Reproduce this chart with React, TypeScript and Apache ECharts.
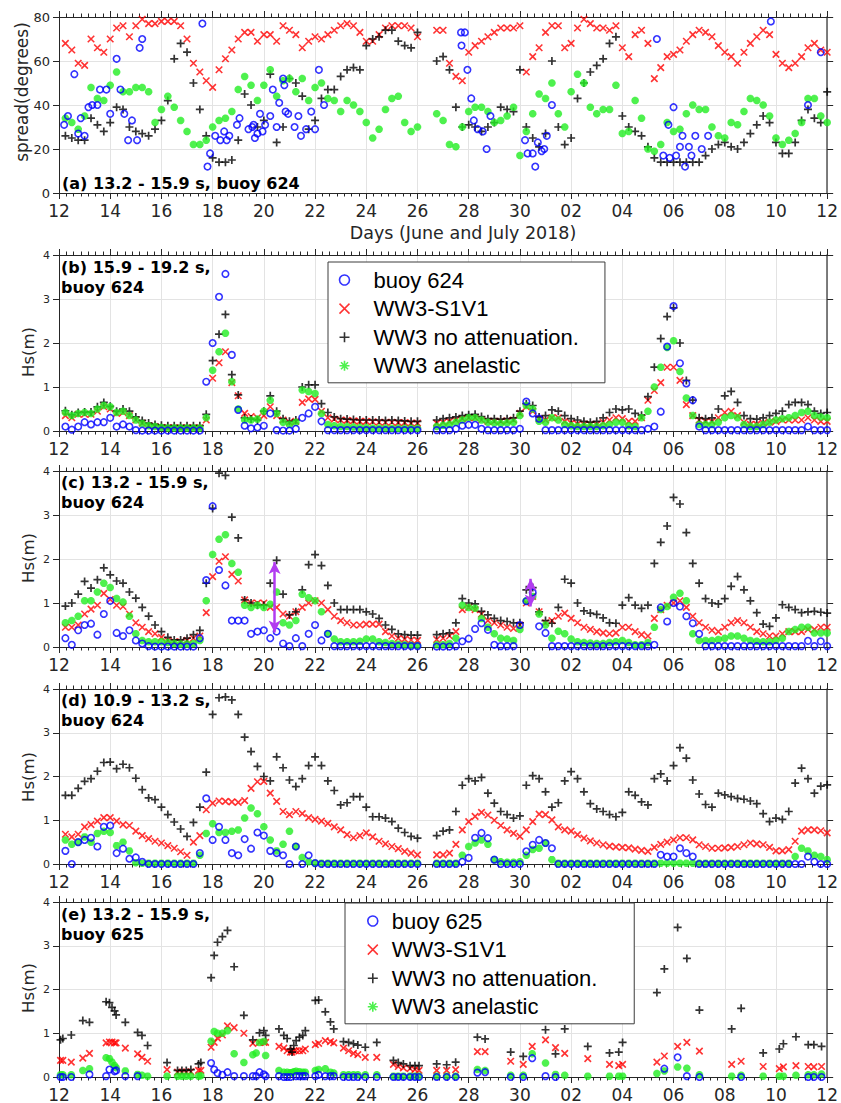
import React, { useEffect, useRef } from 'react';
import * as echarts from 'echarts';

// ---------- tick labels ----------
const dayTicks = ['12','14','16','18','20','22','24','26','28','30','02','04','06','08','10','12'];

// ---------- panel (a): spread (degrees), one row per day (June 12 .. July 12), 6-hourly ----------
const aRed: (number | null)[][] = [
  [null,68,65,59],[58,70,66,64],[70,75,76,71],[76,79,77,77],[78,78,78,76],[70,59,55,51],
  [48,56,61,65],[70,73,73,69],[72,72,69,76],[74,72,66,69],[71,70,72,74],[76,77,76,73],
  [69,69,72,75],[76,76,76,75],[71,null,null,74],[74,59,53,51],[64,67,69,71],[73,75,75,75],
  [76,55,62,66],[73,76,76,66],[68,75,79,77],[75,75,74,76],[66,62,72,74],[68,52,57,62],
  [63,65,69,72],[74,73,71,67],[64,62,59,64],[68,71,74,72],[63,59,57,59],[62,66,68,65],[64]
];
const aBlack: (number | null)[][] = [
  [null,26,25,24],[24,34,31,28],[32,39,38,30],[28,27,26,29],[33,42,61,68],[64,50,38,26],
  [16,14,14,15],[24,45,40,30],[33,54,23,30],[52,50,44,29],[33,43,47,47],[53,56,57,56],
  [67,70,71,74],[74,69,67,66],[73,null,null,60],[62,56,39,30],[31,30,28,30],[32,39,38,37],
  [56,30,25,21],[27,60,30,22],[25,43,50,55],[58,61,68,71],[35,30,28,26],[21,16,14,14],
  [14,14,14,14],[14,17,20,22],[23,21,20,23],[27,31,35,32],[23,18,18,23],[33,38,34,32],[46]
];
const aGreen: (number | null)[][] = [
  [null,34,32,29],[35,48,43,42],[49,55,46,46],[48,48,46,32],[38,44,39,33],[28,22,22,24],
  [30,33,34,37],[47,53,49,42],[49,56,44,51],[52,46,52,42],[48,50,43,42],[37,42,40,37],
  [32,25,29,38],[43,44,32,28],[30,null,null,36],[33,22,21,30],[37,39,39,37],[32,33,35,39],
  [17,28,36,45],[43,50,36,30],[46,54,50,39],[36,38,38,49],[27,28,42,34],[20,19,22,32],
  [28,29,36,40],[38,38,30,26],[25,32,31,37],[43,42,40,35],[25,22,24,27],[32,43,43,35],[32]
];
// buoy 624 spread: [days since June 12, degrees]
const aBuoy: number[][] = [
  [0.2,31],[0.35,35],[0.6,54],[0.75,27],[0.85,34],[1.0,26],[1.15,39],[1.3,40],[1.5,40],[1.6,47],
  [1.85,47],[2.0,36],[2.25,61],[2.4,47],[2.55,36],[2.7,24],[2.85,33],[3.05,24],[3.15,66],[3.25,70],
  [5.6,77],[5.8,12],[5.9,18],[6.1,26],[6.3,24],[6.45,28],[6.55,24],[6.65,26],[6.95,31],[7.05,34],
  [7.4,29],[7.55,30],[7.6,31],[7.65,25],[7.75,27],[7.85,36],[7.95,28],[8.05,31],[8.25,35],[8.35,47],
  [8.5,30],[8.6,41],[8.75,52],[8.8,49],[8.85,37],[8.95,36],[9.2,30],[9.35,35],[9.45,26],[9.65,29],
  [9.85,37],[10.0,29],[10.15,56],[10.35,40],
  [15.7,73],[15.85,73],[15.72,67],[15.95,56],[16.1,43],[16.2,33],[16.35,29],[16.55,28],[16.7,20],[16.85,35],
  [18.2,24],[18.3,18],[18.5,18],[18.6,12],[18.7,23],[18.85,19],[18.95,20],[19.05,26],[19.25,40],
  [23.35,70],[23.6,17],[23.8,31],[23.85,16],[24.0,39],[24.1,17],[24.25,21],[24.35,26],[24.45,12],
  [24.6,21],[24.7,17],[24.85,26],[25.1,20],[25.35,26],[27.8,78],[29.25,40],[29.75,64]
];

// ---------- panel (b): 15.9 - 19.2 s, Hs (m) ----------
const bRed: (number | null)[][] = [
  [null,0.35,0.3,0.38],[0.38,0.38,0.45,0.55],[0.5,0.4,0.42,0.35],[0.25,0.18,0.12,0.1],[0.08,0.07,0.07,0.07],
  [0.07,0.07,0.07,0.25],[1.2,1.55,1.8,1.1],[0.8,0.4,0.33,0.3],[0.35,0.55,0.35,0.25],[0.2,0.22,0.65,0.73],
  [0.72,0.45,0.3,0.27],[0.25,0.24,0.23,0.22],[0.22,0.21,0.2,0.2],[0.2,0.19,0.19,0.18],[0.18,null,null,0.18],
  [0.2,0.22,0.25,0.28],[0.3,0.3,0.25,0.22],[0.22,0.22,0.23,0.25],[0.4,0.55,0.45,0.28],[0.25,0.3,0.3,0.22],
  [0.18,0.16,0.15,0.15],[0.15,0.2,0.25,0.3],[0.28,0.22,0.22,0.3],[0.7,0.92,1.1,1.45],[1.45,1.15,0.6,0.35],
  [0.25,0.22,0.22,0.3],[0.42,0.45,0.35,0.2],[0.15,0.15,0.18,0.2],[0.22,0.25,0.25,0.25],[0.25,0.3,0.25,0.22],[0.22]
];
const bBlack: (number | null)[][] = [
  [null,0.46,0.37,0.42],[0.43,0.43,0.55,0.65],[0.56,0.45,0.5,0.45],[0.32,0.24,0.18,0.15],[0.13,0.12,0.12,0.12],
  [0.12,0.12,0.12,0.38],[1.6,2.2,2.65,1.28],[0.82,0.3,0.27,0.25],[0.45,0.8,0.45,0.28],[0.22,0.25,1.0,1.05],
  [1.05,0.62,0.42,0.32],[0.28,0.27,0.26,0.25],[0.25,0.25,0.25,0.24],[0.25,0.24,0.23,0.22],[0.22,null,null,0.25],
  [0.28,0.3,0.32,0.35],[0.37,0.38,0.33,0.28],[0.28,0.27,0.28,0.3],[0.45,0.62,0.58,0.32],[0.35,0.48,0.45,0.35],
  [0.28,0.25,0.22,0.2],[0.22,0.3,0.42,0.5],[0.48,0.5,0.4,0.36],[0.78,1.45,2.1,2.6],[2.8,2.0,1.15,0.7],
  [0.3,0.28,0.3,0.5],[0.8,0.9,0.65,0.35],[0.28,0.27,0.3,0.35],[0.4,0.45,0.6,0.65],[0.65,0.6,0.45,0.4],[0.42]
];
const bGreen: (number | null)[][] = [
  [null,0.42,0.35,0.4],[0.42,0.4,0.5,0.58],[0.55,0.42,0.45,0.35],[0.25,0.17,0.12,0.1],[0.08,0.07,0.07,0.07],
  [0.07,0.07,0.07,0.3],[1.38,1.8,2.22,1.12],[0.5,0.25,0.25,0.27],[0.45,0.7,0.4,0.2],[0.15,0.2,0.93,0.9],
  [0.85,0.4,0.15,0.12],[0.1,0.1,0.09,0.08],[0.08,0.07,0.07,0.07],[0.06,0.06,0.06,0.06],[0.06,null,null,0.1],
  [0.13,0.15,0.2,0.25],[0.3,0.3,0.25,0.2],[0.18,0.17,0.18,0.2],[0.35,0.58,0.5,0.22],[0.2,0.3,0.25,0.15],
  [0.12,0.1,0.1,0.1],[0.1,0.12,0.15,0.2],[0.2,0.12,0.1,0.3],[0.45,1.0,1.45,1.9],[2.05,1.35,0.75,0.35],
  [0.15,0.15,0.15,0.2],[0.3,0.35,0.3,0.15],[0.1,0.1,0.15,0.2],[0.25,0.28,0.3,0.35],[0.42,0.45,0.35,0.32],[0.3]
];
const bBuoy: (number | null)[][] = [
  [null,0.1,0.03,0.1],[0.2,0.15,0.2,0.2],[0.3,0.1,0.15,0.1],[0.02,0.01,0.01,0.01],[0.01,0.01,0.01,0.01],
  [0.01,0.01,0.01,1.12],[2.0,3.05,3.57,1.73],[0.48,0.12,0.06,0.08],[0.12,0.4,0.02,0.01],[0.01,0.05,0.3,0.4],
  [0.55,0.22,0.02,0.02],[0.02,0.02,0.02,0.02],[0.02,0.02,0.02,0.02],[0.02,0.02,0.02,0.02],[0.02,null,null,0.02],
  [0.02,0.02,0.05,0.12],[0.14,0.14,0.05,0.02],[0.02,0.02,0.02,0.02],[0.05,0.67,0.4,0.28],[0.02,0.02,0.02,0.02],
  [0.02,0.02,0.02,0.02],[0.02,0.02,0.02,0.02],[0.02,0.02,0.02,0.02],[0.05,0.1,0.44,1.92],[2.84,1.54,1.08,0.7],
  [0.1,0.02,0.02,0.02],[0.02,0.02,0.02,0.02],[0.02,0.02,0.02,0.02],[0.02,0.02,0.02,0.02],[0.02,0.1,0.02,0.02],[0.02]
];

// ---------- panel (c): 13.2 - 15.9 s, buoy 624 ----------
const cRed: (number | null)[][] = [
  [null,0.45,0.45,0.5],[0.75,0.86,0.95,1.22],[1.08,0.95,0.92,0.75],[0.55,0.45,0.35,0.3],[0.22,0.15,0.12,0.12],
  [0.15,0.2,0.25,0.78],[1.6,1.95,2.05,1.65],[1.5,1.07,1.0,1.0],[1.0,0.9,0.9,0.75],[0.7,0.8,0.9,1.0],
  [1.05,1.0,0.85,0.7],[0.6,0.55,0.5,0.5],[0.52,0.52,0.52,0.35],[0.25,0.2,0.18,0.16],[0.15,null,null,0.17],
  [0.2,0.25,0.35,0.85],[0.9,0.85,0.75,0.6],[0.55,0.5,0.45,0.42],[0.5,1.0,1.15,0.8],[0.55,0.6,0.7,0.77],
  [0.65,0.55,0.45,0.4],[0.35,0.32,0.3,0.32],[0.45,0.45,0.35,0.28],[0.25,0.65,0.85,0.95],[1.0,1.05,0.9,0.7],
  [0.55,0.45,0.38,0.35],[0.45,0.55,0.6,0.55],[0.45,0.35,0.3,0.25],[0.25,0.3,0.35,0.35],[0.35,0.4,0.4,0.45],[0.45]
];
const cBlack: (number | null)[][] = [
  [null,0.93,1.0,1.2],[1.49,1.34,1.53,1.8],[1.64,1.5,1.45,1.25],[1.11,0.9,0.7,0.5],[0.35,0.22,0.16,0.16],
  [0.2,0.28,0.38,1.45],[3.15,3.95,3.9,2.95],[2.48,1.07,1.0,0.95],[0.95,1.45,1.97,1.2],[0.73,0.8,1.3,1.87],
  [2.1,1.85,1.4,1.0],[0.85,0.85,0.85,0.85],[0.8,0.75,0.65,0.5],[0.4,0.3,0.28,0.27],[0.27,null,null,0.28],
  [0.3,0.32,0.55,1.1],[1.0,0.98,0.81,0.73],[0.65,0.6,0.58,0.55],[0.55,1.3,1.35,0.8],[0.6,0.54,0.9,1.54],
  [1.45,1.0,0.82,0.77],[0.74,0.66,0.55,0.54],[0.95,1.12,0.95,0.88],[0.95,1.9,2.38,2.75],[3.4,3.25,2.6,1.9],
  [1.45,1.1,1.0,0.98],[1.1,1.38,1.6,1.3],[1.05,0.78,0.52,0.47],[0.66,0.96,0.9,0.85],[0.78,0.8,0.81,0.79],[0.77]
];
const cGreen: (number | null)[][] = [
  [null,0.55,0.6,0.7],[1.05,1.05,1.25,1.45],[1.35,1.1,1.02,0.7],[0.3,0.15,0.12,0.12],[0.12,0.1,0.08,0.07],
  [0.07,0.08,0.15,1.05],[2.1,2.45,2.55,1.9],[1.7,0.95,0.9,0.95],[0.9,0.97,1.25,0.55],[0.5,0.6,1.2,1.12],
  [1.05,0.8,0.3,0.18],[0.12,0.12,0.12,0.13],[0.18,0.18,0.12,0.1],[0.08,0.06,0.05,0.04],[0.03,null,null,0.05],
  [0.05,0.08,0.2,0.95],[0.9,0.88,0.65,0.45],[0.3,0.2,0.18,0.15],[0.4,1.05,1.15,0.75],[0.5,0.2,0.36,0.3],
  [0.18,0.12,0.1,0.09],[0.08,0.08,0.1,0.12],[0.15,0.1,0.05,0.05],[0.1,0.45,0.85,0.92],[1.13,1.22,1.05,0.3],
  [0.15,0.15,0.15,0.17],[0.2,0.25,0.25,0.2],[0.15,0.13,0.12,0.12],[0.15,0.2,0.35,0.4],[0.45,0.45,0.32,0.32],[0.32]
];
const cBuoy: (number | null)[][] = [
  [null,0.2,0.05,0.38],[0.5,0.53,0.28,0.75],[1.05,0.32,0.25,0.38],[0.15,0.08,0.02,0.01],[0.01,0.01,0.01,0.01],
  [0.01,0.01,0.2,1.52],[3.2,1.75,1.4,0.6],[0.6,0.6,0.3,0.35],[0.38,0.2,0.35,0.08],[0.02,0.2,0.02,0.3],
  [0.5,0.15,0.3,0.02],[0.02,0.02,0.02,0.02],[0.02,0.02,0.02,0.02],[0.02,0.02,0.02,0.02],[0.02,null,null,0.01],
  [0.01,0.01,0.02,0.13],[0.19,0.41,0.54,0.39],[0.05,0.02,0.02,0.02],[0.5,1.04,1.24,0.47],[0.32,0.02,0.02,0.02],
  [0.02,0.02,0.02,0.02],[0.02,0.02,0.02,0.02],[0.02,0.02,0.02,0.02],[0.02,0.05,0.9,0.58],[1.0,0.92,0.7,0.54],
  [0.3,0.02,0.02,0.02],[0.02,0.02,0.02,0.02],[0.02,0.02,0.02,0.02],[0.02,0.02,0.02,0.02],[0.02,0.14,0.02,0.13],[0.02]
];
// purple double arrows in panel (c): [days since June 12, low Hs, high Hs]
const cArrows: number[][] = [[8.42, 0.33, 1.93], [18.42, 0.92, 1.55]];

// ---------- panel (d): 10.9 - 13.2 s, buoy 624 ----------
const dRed: (number | null)[][] = [
  [null,0.68,0.62,0.68],[0.85,0.9,0.98,1.06],[1.06,0.98,0.9,0.88],[0.75,0.65,0.58,0.52],[0.48,0.42,0.36,0.28],
  [0.2,0.5,0.65,1.24],[1.39,1.44,1.43,1.42],[1.41,1.45,1.73,1.88],[1.89,1.62,1.43,1.2],[1.13,1.2,1.15,1.06],
  [1.02,0.98,0.93,0.85],[0.78,0.67,0.6,0.65],[0.71,0.62,0.52,0.46],[0.4,0.35,0.29,0.25],[0.21,null,null,0.21],
  [0.21,0.25,0.45,0.78],[0.97,1.09,1.18,1.12],[1.0,0.88,0.78,0.7],[0.63,0.78,0.97,1.14],[1.13,1.01,0.85,0.78],
  [0.75,0.67,0.59,0.53],[0.48,0.44,0.41,0.39],[0.38,0.37,0.34,0.31],[0.29,0.38,0.45,0.5],[0.55,0.6,0.6,0.55],
  [0.44,0.4,0.36,0.36],[0.37,0.38,0.4,0.44],[0.48,0.46,0.44,0.38],[0.3,0.3,0.33,0.52],[0.75,0.78,0.78,0.76],[0.71]
];
const dBlack: (number | null)[][] = [
  [null,1.57,1.57,1.73],[1.89,1.95,2.12,2.32],[2.33,2.18,2.28,2.2],[1.96,1.7,1.51,1.47],[1.3,1.13,0.96,0.8],
  [0.63,0.95,1.3,2.1],[3.42,3.8,3.82,3.75],[3.42,2.9,2.57,2.23],[2.0,1.9,2.45,2.2],[1.92,1.77,1.95,2.25],
  [2.45,2.25,1.9,1.68],[1.35,1.4,1.54,1.54],[1.3,1.08,1.08,1.05],[0.97,0.82,0.72,0.63],[0.59,null,null,0.65],
  [0.75,0.78,1.2,1.8],[1.95,1.9,1.98,1.62],[1.39,1.2,1.13,1.05],[1.1,1.8,2.02,1.95],[1.65,1.3,1.4,1.9],
  [2.11,1.95,1.65,1.38],[1.26,1.2,1.13,1.08],[1.18,1.65,1.57,1.42],[1.35,1.95,2.06,1.9],[2.25,2.66,2.42,1.92],
  [1.6,1.36,1.3,1.62],[1.58,1.54,1.5,1.48],[1.44,1.38,1.15,0.97],[1.05,1.02,1.2,1.85],[2.19,1.95,1.62,1.78],[1.81]
];
const dGreen: (number | null)[][] = [
  [null,0.55,0.45,0.5],[0.62,0.5,0.7,0.75],[0.72,0.42,0.5,0.3],[0.03,0.02,0.02,0.02],[0.02,0.02,0.02,0.02],
  [0.02,0.02,0.2,0.7],[0.92,0.72,0.72,0.75],[0.78,1.05,1.28,1.15],[0.85,0.55,0.3,0.45],[0.75,0.4,0.15,0.05],
  [0.02,0.02,0.02,0.02],[0.02,0.02,0.02,0.02],[0.02,0.02,0.02,0.02],[0.02,0.02,0.02,0.02],[0.02,null,null,0.02],
  [0.02,0.02,0.02,0.2],[0.4,0.48,0.55,0.45],[0.1,0.05,0.04,0.04],[0.05,0.2,0.33,0.36],[0.48,0.1,0.02,0.02],
  [0.02,0.02,0.02,0.02],[0.02,0.02,0.02,0.02],[0.02,0.02,0.02,0.02],[0.02,0.02,0.02,0.02],[0.02,0.02,0.02,0.02],
  [0.02,0.02,0.02,0.02],[0.02,0.02,0.02,0.02],[0.02,0.02,0.02,0.02],[0.02,0.02,0.02,0.17],[0.36,0.3,0.2,0.17],[0.1]
];
const dBuoy: (number | null)[][] = [
  [null,0.3,0.0,0.5],[0.55,0.6,0.4,0.85],[0.88,0.25,0.35,0.12],[0.15,0.05,0.0,0.0],[0.0,0.0,0.0,0.0],
  [0.0,0.0,0.25,1.5],[0.55,0.85,0.55,0.25],[0.2,0.57,0.35,0.72],[0.65,0.3,0.25,0.2],[0.0,0.4,0.0,0.2],
  [0.02,0.0,0.0,0.0],[0.0,0.0,0.0,0.0],[0.0,0.0,0.0,0.0],[0.0,0.0,0.0,0.0],[0.0,null,null,0.0],
  [0.0,0.0,0.0,0.05],[0.14,0.6,0.71,0.59],[0.1,0.0,0.0,0.0],[0.0,0.29,0.44,0.55],[0.48,0.36,0.0,0.0],
  [0.0,0.0,0.0,0.0],[0.0,0.0,0.0,0.0],[0.0,0.0,0.0,0.0],[0.0,0.0,0.21,0.17],[0.17,0.36,0.25,0.17],
  [0.0,0.0,0.0,0.0],[0.0,0.0,0.0,0.0],[0.0,0.0,0.0,0.0],[0.0,0.0,0.0,0.0],[0.0,0.17,0.05,0.0],[0.0]
];

// ---------- panel (e): 13.2 - 15.9 s, buoy 625 (irregular times, days since June 12) ----------
const eTime: number[] = [
  0.06,0.15,0.48,0.93,1.19,1.84,1.97,2.07,2.17,2.23,
  2.59,3.07,3.24,3.46,4.22,4.63,4.8,4.97,5.15,5.45,
  5.54,5.94,6.06,6.19,6.38,6.58,6.84,7.22,7.57,7.7,
  7.83,8.0,8.07,8.59,8.78,8.91,9.04,9.1,9.17,9.26,
  9.39,9.52,9.62,10.01,10.14,10.4,10.6,10.73,11.11,11.31,
  11.5,11.67,11.96,12.41,13.06,13.25,13.45,13.71,13.9,14.06,
  14.75,15.14,15.49,16.34,16.64,17.64,18.13,18.48,19.0,19.39,
  19.75,20.65,21.5,21.86,22.01,23.35,23.64,24.16,24.52,25.01,
  26.27,26.64,27.5,28.13,28.29,28.78,29.26,29.48,29.78
];
const eBlack: (number | null)[] = [
  0.85,0.88,0.96,1.29,1.25,1.72,1.7,1.59,1.51,1.42,
  1.25,1.02,0.95,0.72,0.33,0.15,0.15,0.15,0.17,0.3,
  0.33,2.27,2.78,3.08,3.21,3.35,2.52,1.41,0.85,null,
  1.01,1.06,0.95,1.1,0.95,0.88,0.64,0.57,0.72,0.83,
  0.91,0.95,1.06,1.75,1.76,1.49,1.26,1.1,0.81,0.79,
  0.76,0.73,0.68,0.79,0.38,0.33,0.3,0.26,0.26,0.26,
  0.3,0.28,0.34,0.91,0.87,0.57,0.47,null,1.08,0.53,
  1.1,0.7,0.55,0.57,0.79,1.93,2.47,3.42,2.71,1.53,
  1.1,1.57,0.55,0.64,0.76,0.92,0.74,0.74,0.7
];
const eRed: (number | null)[] = [
  0.38,0.38,0.34,0.43,0.54,0.78,0.8,0.8,0.78,0.78,
  0.66,0.53,0.45,0.36,0.17,0.11,0.11,0.11,0.12,0.15,
  0.15,0.68,0.79,0.89,0.96,1.17,1.13,1.0,0.77,null,
  0.79,0.79,0.79,0.7,0.66,0.6,0.57,0.57,0.6,0.6,
  0.6,0.6,0.64,0.74,0.77,0.83,0.81,0.78,0.66,0.6,
  0.54,0.51,0.45,0.45,0.29,0.24,0.21,0.19,0.17,0.15,
  0.15,0.15,0.17,0.58,0.58,0.36,0.29,0.7,0.85,0.67,
  0.54,0.42,0.29,0.26,0.29,0.34,0.48,0.7,0.79,0.59,
  0.29,0.36,0.24,0.19,0.23,0.26,0.24,0.23,0.24
];
const eGreen: (number | null)[] = [
  0.05,0.05,0.05,0.15,0.19,0.44,0.42,0.34,0.26,0.21,
  0.14,0.06,0.04,0.02,0.02,0.02,0.02,0.02,0.02,0.02,
  0.03,0.82,1.04,1.0,1.0,1.06,0.53,0.33,0.51,0.55,
  0.79,0.81,0.49,0.15,0.11,0.11,0.1,0.1,0.12,0.13,
  0.12,0.11,0.11,0.15,0.17,0.19,0.11,0.09,0.05,0.05,
  0.05,0.05,0.05,0.05,0.02,0.02,0.02,0.02,0.02,0.02,
  0.02,0.02,0.02,0.17,0.15,0.04,0.04,0.53,0.32,0.06,
  0.04,0.02,0.02,0.02,0.02,0.08,0.14,0.23,0.2,0.05,
  0.02,0.04,0.02,0.02,0.02,0.04,0.05,0.05,0.07
];
const eBuoy: (number | null)[] = [
  0.0,0.0,0.0,null,0.06,0.02,0.17,null,0.13,0.15,
  0.02,0.02,null,null,null,null,null,null,null,null,
  null,0.32,0.17,0.09,0.05,0.11,0.02,0.02,0.02,0.02,
  0.11,0.06,0.02,0.02,0.0,0.0,0.0,null,null,0.02,
  0.02,0.02,0.02,0.02,0.05,0.02,0.02,0.02,0.0,0.0,
  0.0,0.0,0.0,0.0,0.0,0.0,0.0,0.0,0.0,0.0,
  0.0,0.0,0.0,0.1,0.11,0.0,0.0,0.43,0.02,0.0,
  null,null,null,null,null,null,0.19,0.45,0.02,0.0,
  null,0.0,null,null,null,null,0.0,0.0,0.0
];

// ---------- names ----------
const NAME_BUOY = ['buoy 624', 'buoy 625'];
const NAME_S1V1 = 'WW3-S1V1';
const NAME_NOATT = 'WW3 no attenuation.';
const NAME_ANEL = 'WW3 anelastic';

// ---------- style ----------
const AX = '#262626';
const GRIDC = '#e3e3e3';
const BLUE = '#0000ff';
const RED = '#ff0000';
const BLACK = '#000000';
const GREEN = '#22ee22';
const SYM_X = 'path://M0,0L10,10M10,0L0,10';
const SYM_PLUS = 'path://M5,0L5,10M0,5L10,5';
const SYM_STAR = 'path://M5,0L5,10M0,5L10,5M1.5,1.5L8.5,8.5M8.5,1.5L1.5,8.5';

function rowsToPoints(rows: (number | null)[][]): number[][] {
  const out: number[][] = [];
  rows.forEach((row, d) => row.forEach((v, j) => { if (v != null) out.push([d + j / 4, v]); }));
  return out;
}
function zipPoints(xs: number[], ys: (number | null)[]): number[][] {
  const out: number[][] = [];
  xs.forEach((x, i) => { const v = ys[i]; if (v != null) out.push([x, v]); });
  return out;
}

const GRIDS = [
  { top: 17, height: 176 },
  { top: 255, height: 176 },
  { top: 471, height: 176 },
  { top: 689, height: 175 },
  { top: 902, height: 176 },
];

function buildOption() {
  const grid = GRIDS.map(g => ({ left: 59, width: 772, top: g.top, height: g.height, containLabel: false }));
  const xAxis: any[] = [];
  const yAxis: any[] = [];
  GRIDS.forEach((_, k) => {
    const common = {
      type: 'value', gridIndex: k, min: 0, max: 30, interval: 2,
      axisLine: { show: true, onZero: false, lineStyle: { color: AX, width: 1 } },
      axisTick: { show: true, inside: false, length: 6, lineStyle: { color: AX } },
      minorTick: { show: true, splitNumber: 7, length: 3.5, lineStyle: { color: AX } },
    };
    xAxis.push({
      ...common, position: 'bottom',
      axisLabel: {
        show: true, margin: 9, fontSize: 17, fontFamily: 'DejaVu Sans', color: AX,
        formatter: (v: number) => dayTicks[Math.round(v / 2)] ?? '',
      },
      splitLine: { show: true, lineStyle: { color: GRIDC, width: 1 } },
    });
    xAxis.push({ ...common, position: 'top', axisLabel: { show: false }, splitLine: { show: false } });
    const ymax = k === 0 ? 80 : 4;
    const yint = k === 0 ? 20 : 1;
    const ycommon = {
      type: 'value', gridIndex: k, min: 0, max: ymax, interval: yint,
      axisLine: { show: true, onZero: false, lineStyle: { color: AX, width: 1 } },
      axisTick: { show: true, inside: false, length: 6, lineStyle: { color: AX } },
    };
    yAxis.push({
      ...ycommon, position: 'left',
      axisLabel: { show: true, margin: 9, fontSize: k === 0 ? 13 : 11, fontFamily: 'DejaVu Sans', color: AX },
      splitLine: { show: true, lineStyle: { color: GRIDC, width: 1 } },
    });
    yAxis.push({ ...ycommon, position: 'right', axisLine: { show: true, onZero: false, lineStyle: { color: '#555', width: 1.5 } }, axisLabel: { show: false }, splitLine: { show: false } });
  });

  const mk = (k: number, name: string, kind: 'red' | 'black' | 'green' | 'blue', data: number[][], extra: any = {}) => {
    const st: any = {
      red: { symbol: SYM_X, symbolSize: 6.5, itemStyle: { color: 'rgba(0,0,0,0)', borderColor: RED, borderWidth: 1.6 } },
      black: { symbol: SYM_PLUS, symbolSize: 8, itemStyle: { color: 'rgba(0,0,0,0)', borderColor: BLACK, borderWidth: 1.7 } },
      green: { symbol: SYM_STAR, symbolSize: 7.5, itemStyle: { color: 'rgba(0,0,0,0)', borderColor: GREEN, borderWidth: 2.5 } },
      blue: { symbol: 'circle', symbolSize: 6.5, itemStyle: { color: 'rgba(0,0,0,0)', borderColor: BLUE, borderWidth: 1.6 } },
    }[kind];
    return {
      type: 'scatter', name, xAxisIndex: 2 * k, yAxisIndex: 2 * k, data,
      silent: true, emphasis: { disabled: true }, ...st, ...extra,
    };
  };

  const series: any[] = [
    mk(0, NAME_S1V1, 'red', rowsToPoints(aRed)),
    mk(0, NAME_NOATT, 'black', rowsToPoints(aBlack)),
    mk(0, NAME_ANEL, 'green', rowsToPoints(aGreen)),
    mk(0, NAME_BUOY[0], 'blue', aBuoy),

    mk(1, NAME_S1V1, 'red', rowsToPoints(bRed)),
    mk(1, NAME_NOATT, 'black', rowsToPoints(bBlack)),
    mk(1, NAME_ANEL, 'green', rowsToPoints(bGreen)),
    mk(1, NAME_BUOY[0], 'blue', rowsToPoints(bBuoy)),

    mk(2, NAME_S1V1, 'red', rowsToPoints(cRed)),
    mk(2, NAME_NOATT, 'black', rowsToPoints(cBlack)),
    mk(2, NAME_ANEL, 'green', rowsToPoints(cGreen)),
    mk(2, NAME_BUOY[0], 'blue', rowsToPoints(cBuoy), {
      markLine: {
        silent: true, animation: false, symbol: ['arrow', 'arrow'], symbolSize: [9, 12],
        label: { show: false },
        lineStyle: { color: '#b23cf0', width: 2.5, type: 'solid' },
        emphasis: { disabled: true },
        data: cArrows.map(([x, y1, y2]) => [{ coord: [x, y1] }, { coord: [x, y2] }]),
      },
    }),

    mk(3, NAME_S1V1, 'red', rowsToPoints(dRed)),
    mk(3, NAME_NOATT, 'black', rowsToPoints(dBlack)),
    mk(3, NAME_ANEL, 'green', rowsToPoints(dGreen)),
    mk(3, NAME_BUOY[0], 'blue', rowsToPoints(dBuoy)),

    mk(4, NAME_S1V1, 'red', zipPoints(eTime, eRed)),
    mk(4, NAME_NOATT, 'black', zipPoints(eTime, eBlack)),
    mk(4, NAME_ANEL, 'green', zipPoints(eTime, eGreen)),
    mk(4, NAME_BUOY[1], 'blue', zipPoints(eTime, eBuoy)),
  ];

  const legendItems = (buoyName: string) => [
    { name: buoyName, icon: 'circle', itemStyle: { color: 'rgba(0,0,0,0)', borderColor: BLUE, borderWidth: 1.6 } },
    { name: NAME_S1V1, icon: SYM_X, itemStyle: { color: 'rgba(0,0,0,0)', borderColor: RED, borderWidth: 1.5 } },
    { name: NAME_NOATT, icon: SYM_PLUS, itemStyle: { color: 'rgba(0,0,0,0)', borderColor: BLACK, borderWidth: 1.6 } },
    { name: NAME_ANEL, icon: SYM_STAR, itemStyle: { color: 'rgba(0,0,0,0)', borderColor: GREEN, borderWidth: 1.6 } },
  ];
  const legendBase = {
    orient: 'vertical', itemHeight: 10, itemGap: 6.6, selectedMode: false,
    backgroundColor: '#ffffff', borderColor: '#3c3c3c', borderWidth: 1, borderRadius: 0,
    textStyle: { fontSize: 22, lineHeight: 22, fontFamily: '"Liberation Sans", Arial, sans-serif', color: '#000' },
  };
  const legend = [
    { ...legendBase, left: 328, top: 262, itemWidth: 48, padding: [7, 26, 6, 10.7], data: legendItems(NAME_BUOY[0]) },
    { ...legendBase, left: 345, top: 903, itemWidth: 28, padding: [7, 37, 6, 22], data: legendItems(NAME_BUOY[1]) },
  ];

  const tt = (text: string, x: number, y: number) => ({
    type: 'text', x, y, z: 100, silent: true,
    style: { text, fill: '#000', fontSize: 16, fontWeight: 'bold', fontFamily: 'DejaVu Sans', align: 'left', verticalAlign: 'middle' },
  });
  const yName = (text: string, x: number, y: number, size: number) => ({
    type: 'text', x, y, rotation: Math.PI / 2, z: 100, silent: true,
    style: { text, fill: AX, fontSize: size, fontFamily: 'DejaVu Sans', align: 'center', verticalAlign: 'middle' },
  });
  const graphic = [
    tt('(a) 13.2 - 15.9 s, buoy 624', 62, 183),
    tt('(b) 15.9 - 19.2 s,', 61, 267), tt('buoy 624', 61, 287),
    tt('(c) 13.2 - 15.9 s,', 61, 482), tt('buoy 624', 61, 502),
    tt('(d) 10.9 - 13.2 s,', 61, 700), tt('buoy 624', 61, 720),
    tt('(e) 13.2 - 15.9 s,', 61, 914), tt('buoy 625', 61, 934),
    yName('spread(degrees)', 22, 92, 17),
    yName('Hs(m)', 28, 352, 16.5),
    yName('Hs(m)', 28, 558, 16.5),
    yName('Hs(m)', 28, 777, 16.5),
    yName('Hs(m)', 28, 988, 16.5),
    {
      type: 'text', x: 463, y: 233, z: 100, silent: true,
      style: { text: 'Days (June and July 2018)', fill: AX, fontSize: 17.5, fontFamily: 'DejaVu Sans', align: 'center', verticalAlign: 'middle' },
    },
  ];

  return { animation: false, backgroundColor: '#ffffff', grid, xAxis, yAxis, series, legend, graphic };
}

export default function App() {
  const ref = useRef<HTMLDivElement>(null);
  useEffect(() => {
    if (!ref.current) return;
    const chart = echarts.init(ref.current, null, { renderer: 'svg' });
    chart.setOption(buildOption() as any);
    return () => chart.dispose();
  }, []);
  return (
    <div
      ref={ref}
      style={{ position: 'fixed', left: 0, top: 0, width: 841, height: 1103, background: '#ffffff' }}
    />
  );
}
